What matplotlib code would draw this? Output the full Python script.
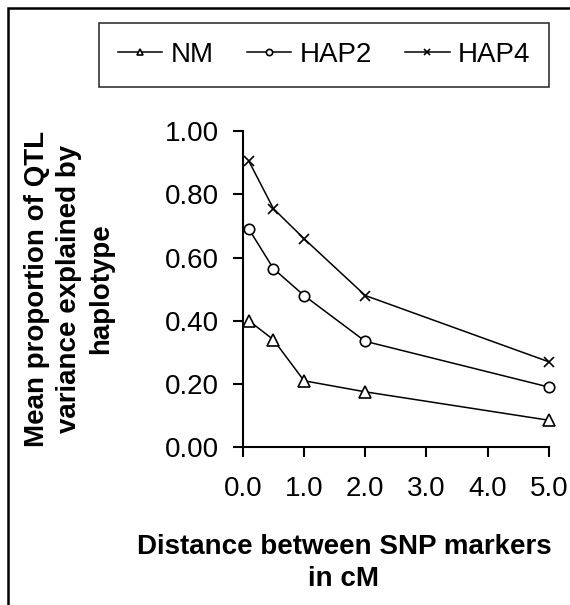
import matplotlib
matplotlib.use('Agg')
import matplotlib.pyplot as plt
from matplotlib.patches import Rectangle
from matplotlib.ticker import FormatStrFormatter

plt.rcParams['font.family'] = ['Liberation Sans', 'DejaVu Sans']

# distances between SNP markers (cM)
distance = [0.1, 0.5, 1.0, 2.0, 5.0]

# mean proportion of QTL variance explained
nm = [0.40, 0.34, 0.21, 0.175, 0.085]
hap2 = [0.69, 0.565, 0.48, 0.335, 0.19]
hap4 = [0.905, 0.755, 0.66, 0.48, 0.27]

x_ticks = [0, 1, 2, 3, 4, 5]
y_ticks = [0.0, 0.2, 0.4, 0.6, 0.8, 1.0]

fig = plt.figure(figsize=(5.7, 6.05), dpi=100)
ax = fig.add_axes([0.426, 0.261, 0.537, 0.522])

ax.plot(distance, nm, color='black', lw=1.1, marker='^', ms=8,
        mfc='white', mec='black', mew=1.2, label='NM')
ax.plot(distance, hap2, color='black', lw=1.1, marker='o', ms=7.5,
        mfc='white', mec='black', mew=1.2, label='HAP2')
ax.plot(distance, hap4, color='black', lw=1.1, marker='x', ms=7,
        mec='black', mew=1.2, label='HAP4')

ax.set_xlim(0, 5)
ax.set_ylim(0, 1.0)
ax.set_xticks(x_ticks)
ax.set_yticks(y_ticks)
ax.xaxis.set_major_formatter(FormatStrFormatter('%.1f'))
ax.yaxis.set_major_formatter(FormatStrFormatter('%.2f'))
ax.tick_params(direction='out', length=7, width=1.5, labelsize=20,
               colors='black')
ax.tick_params(axis='x', pad=14)
ax.tick_params(axis='y', pad=10)
for s in ['top', 'right']:
    ax.spines[s].set_visible(False)
for s in ['left', 'bottom']:
    ax.spines[s].set_linewidth(1.5)
for ln in ax.lines:
    ln.set_clip_on(False)

fig.text(69 / 570, 1 - 289 / 605,
         'Mean proportion of QTL\nvariance explained by\nhaplotype',
         ha='center', va='center', rotation=90, fontsize=20,
         fontweight='bold', linespacing=1.3)

fig.text(344 / 570, 1 - 563 / 605, 'Distance between SNP markers\nin cM',
         ha='center', va='center', fontsize=20, fontweight='bold',
         linespacing=1.3)

leg = fig.legend(loc='center', bbox_to_anchor=(324 / 570, 1 - 55 / 605),
                 ncol=3, fontsize=20, frameon=True, fancybox=False,
                 edgecolor='black', handlelength=1.6, handletextpad=0.3,
                 columnspacing=1.2, markerscale=0.6, borderpad=0.68)
leg.get_frame().set_linewidth(1.2)

fig.patches.append(Rectangle((8 / 570, -0.1), 1.2, 1 - 8 / 605 + 0.1,
                             transform=fig.transFigure, fill=False,
                             edgecolor='black', lw=1.8))

fig.savefig('out.png', dpi=100)
